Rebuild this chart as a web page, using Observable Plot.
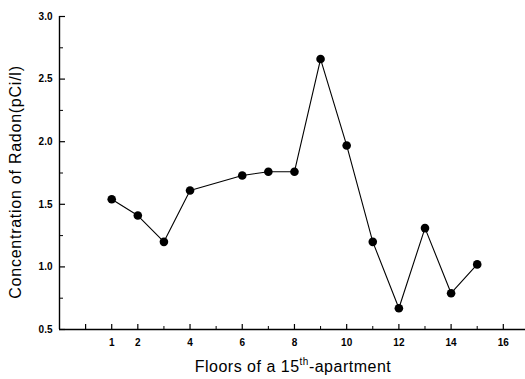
<!DOCTYPE html>
<html>
<head>
<meta charset="utf-8">
<script src="https://cdn.jsdelivr.net/npm/d3@7"></script>
<script src="https://cdn.jsdelivr.net/npm/@observablehq/plot@0.6"></script>
<style>
  html, body { margin: 0; padding: 0; background: white; }
</style>
</head>
<body>
<div id="chart"></div>
<script>
const floors = [1, 2, 3, 4, 6, 7, 8, 9, 10, 11, 12, 13, 14, 15];
const radon = [1.54, 1.41, 1.20, 1.61, 1.73, 1.76, 1.76, 2.66, 1.97, 1.20, 0.67, 1.31, 0.79, 1.02];
const xTickLabels = [1, 2, 4, 6, 8, 10, 12, 14, 16];
const xMajorTicks = [0, 1, 2, 4, 6, 8, 10, 12, 14, 16];
const xMinorTicks = [3, 5, 7, 9, 11, 13, 15];
const yTickLabels = [0.5, 1.0, 1.5, 2.0, 2.5, 3.0];
const yMinorTicks = [0.75, 1.25, 1.75, 2.25, 2.75];
const xTitle = ["Floors of a 15", "th", "-apartment"];
const yTitle = "Concentration of Radon(pCi/l)";

const data = floors.map((f, i) => ({floor: f, radon: radon[i]}));

const W = 525, H = 379, ML = 59, MR = 0, MT = 16, MB = 50;
const frameW = W - ML - MR, frameH = H - MT - MB;

const chart = Plot.plot({
  width: W,
  height: H,
  marginLeft: ML,
  marginRight: MR,
  marginTop: MT,
  marginBottom: MB,
  style: {fontFamily: "'Liberation Sans', Arial, sans-serif", background: "white", color: "black"},
  x: {domain: [-1, 16.85], label: null},
  y: {domain: [0.5, 3.0], label: null},
  marks: [
    Plot.ruleX([-1], {stroke: "black", strokeWidth: 1.4}),
    Plot.ruleY([0.5], {stroke: "black", strokeWidth: 1.4}),
    Plot.tickX(xMajorTicks, {x: d => d, insetTop: frameH - 5, stroke: "black", strokeWidth: 1.2}),
    Plot.tickX(xMinorTicks, {x: d => d, insetTop: frameH - 3, stroke: "black", strokeWidth: 1}),
    Plot.tickY(yTickLabels, {y: d => d, insetRight: frameW - 6, stroke: "black", strokeWidth: 1.2}),
    Plot.tickY(yMinorTicks, {y: d => d, insetRight: frameW - 4, stroke: "black", strokeWidth: 1}),
    Plot.axisX(xTickLabels, {tickSize: 0, tickPadding: 9, fontSize: 10, fontWeight: "bold", label: null, tickFormat: d => String(d)}),
    Plot.axisY(yTickLabels, {tickSize: 0, tickPadding: 7, fontSize: 10, fontWeight: "bold", label: null, tickFormat: d3.format(".1f")}),
    Plot.line(data, {x: "floor", y: "radon", stroke: "black", strokeWidth: 1.1}),
    Plot.dot(data, {x: "floor", y: "radon", r: 4.3, fill: "black", stroke: "none"})
  ]
});

const svg = d3.select(chart);
const xt = svg.append("text")
  .attr("x", 293).attr("y", 372)
  .attr("text-anchor", "middle")
  .attr("font-size", 16)
  .attr("letter-spacing", 0.5)
  .attr("fill", "black");
xt.append("tspan").text(xTitle[0]);
xt.append("tspan").attr("font-size", 10).attr("dy", -7).text(xTitle[1]);
xt.append("tspan").attr("dy", 7).text(xTitle[2]);

svg.append("text")
  .attr("transform", "translate(21,182) rotate(-90)")
  .attr("text-anchor", "middle")
  .attr("font-size", 16)
  .attr("letter-spacing", 0.75)
  .attr("fill", "black")
  .text(yTitle);

document.getElementById("chart").appendChild(chart);
</script>
</body>
</html>
